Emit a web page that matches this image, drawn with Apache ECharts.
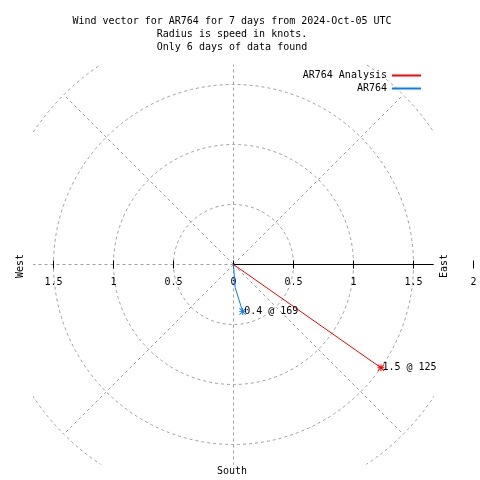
<!DOCTYPE html>
<html><head><meta charset="utf-8">
<script src="https://cdn.jsdelivr.net/npm/echarts@6/dist/echarts.min.js"></script>
<style>html,body{margin:0;padding:0;background:#fff}#c{width:480px;height:480px}</style>
</head><body><div id="c"></div>
<script>
// ---- data ----
const titleLines = ['Wind vector for AR764 for 7 days from 2024-Oct-05 UTC', 'Radius is speed in knots.', 'Only 6 days of data found'];
const seriesNames = ['AR764 Analysis', 'AR764'];
const analysisSpeed = [0, 1.5];     // knots
const analysisDir = [0, 125];       // degrees (clockwise from north)
const obsSpeed = [0, 0.19, 0.4];
const obsDir = [0, 176, 169];
const tickValues = [-1.5, -1, -0.5, 0, 0.5, 1, 1.5, 2];
const ringRadii = [0.5, 1, 1.5, 2];
const spokeAngles = [0, 45, 90, 135, 180, 225, 270, 315];
const compassLabels = ['West', 'East', 'South'];
const axisMax = 5 / 3;

// ---- helpers ----
const FONT = 'DejaVu Sans Mono';
const GRAY = '#a0a0a0';
const STAR = 'path://M4.3,0 h1.4 v10 h-1.4 z M0,4.3 h10 v1.4 h-10 z M1,0 L10,9 L9,10 L0,1 z M9,0 L10,1 L1,10 L0,9 z';
function toXY(s, d) {
  const a = d * Math.PI / 180;
  return [s * Math.sin(a), s * Math.cos(a)];
}
function vectorData(speeds, dirs) {
  const last = speeds.length - 1;
  return speeds.map((s, i) => ({
    value: toXY(s, dirs[i]),
    symbol: i === last ? STAR : 'none',
    label: { show: i === last, formatter: s + ' @ ' + dirs[i] }
  }));
}
const vecLabel = {
  position: [5, 3.5], align: 'left', verticalAlign: 'middle',
  fontFamily: FONT, fontSize: 10, color: '#000'
};

const chart = echarts.init(document.getElementById('c'), null, { renderer: 'canvas' });
chart.setOption({
  animation: false,
  backgroundColor: '#fff',
  title: {
    text: titleLines.join('\n'),
    left: 232, top: 15, padding: 0, textAlign: 'center',
    textStyle: { fontFamily: FONT, fontSize: 10, fontWeight: 'normal', color: '#000', lineHeight: 13 }
  },
  legend: {
    data: seriesNames.map(n => ({ name: n, icon: 'rect' })),
    orient: 'vertical', align: 'right', right: 59, top: 69, padding: 0,
    itemWidth: 29, itemHeight: 2, itemGap: 0, selectedMode: false,
    textStyle: { fontFamily: FONT, fontSize: 10, color: '#000', lineHeight: 13 }
  },
  grid: { left: 33.5, top: 64.5, width: 400, height: 400 },
  xAxis: { type: 'value', min: -axisMax, max: axisMax, show: false },
  yAxis: { type: 'value', min: -axisMax, max: axisMax, show: false },
  graphic: [
    { type: 'text', x: 20, y: 266, rotation: Math.PI / 2,
      style: { text: compassLabels[0], fontFamily: FONT, fontSize: 10, fill: '#000', align: 'center', verticalAlign: 'middle' } },
    { type: 'text', x: 444, y: 266, rotation: Math.PI / 2,
      style: { text: compassLabels[1], fontFamily: FONT, fontSize: 10, fill: '#000', align: 'center', verticalAlign: 'middle' } },
    { type: 'text', x: 232, y: 471,
      style: { text: compassLabels[2], fontFamily: FONT, fontSize: 10, fill: '#000', align: 'center', verticalAlign: 'middle' } }
  ],
  series: [
    { // rings
      type: 'custom', clip: true, silent: true, z: 1,
      data: ringRadii.map(r => [r, 0]),
      renderItem: (p, api) => {
        const c = api.coord([0, 0]);
        const r = api.size([api.value(0), 0])[0];
        return { type: 'circle', shape: { cx: c[0], cy: c[1], r: r },
          style: { fill: 'none', stroke: GRAY, lineWidth: 1, lineDash: [3, 3] } };
      }
    },
    { // spokes
      type: 'custom', clip: true, silent: true, z: 1,
      data: spokeAngles.map(a => [a, 2]),
      renderItem: (p, api) => {
        const c = api.coord([0, 0]);
        const e = api.coord(toXY(api.value(1), api.value(0)));
        return { type: 'line', shape: { x1: c[0], y1: c[1], x2: e[0], y2: e[1] },
          style: { stroke: GRAY, lineWidth: 1, lineDash: [3, 3] } };
      }
    },
    { // axis line (east half)
      type: 'custom', clip: false, silent: true, z: 2,
      data: [[0, 0, axisMax, 0]],
      renderItem: (p, api) => {
        const a = api.coord([api.value(0), api.value(1)]);
        const b = api.coord([api.value(2), api.value(3)]);
        return { type: 'line', shape: { x1: a[0], y1: a[1], x2: b[0], y2: b[1] },
          style: { stroke: '#000', lineWidth: 1 } };
      }
    },
    { // ticks + labels
      type: 'custom', clip: false, silent: true, z: 3,
      data: tickValues.map(v => [v, 0]),
      renderItem: (p, api) => {
        const v = api.value(0);
        const c = api.coord([v, 0]);
        return { type: 'group', children: [
          { type: 'line', shape: { x1: c[0], y1: c[1] - 4, x2: c[0], y2: c[1] + 4 }, style: { stroke: '#000', lineWidth: 1 } },
          { type: 'text', x: c[0], y: c[1] + 18,
            style: { text: String(Math.abs(v)), fontFamily: FONT, fontSize: 10, fill: '#000', align: 'center', verticalAlign: 'middle' } }
        ] };
      }
    },
    {
      name: seriesNames[0], type: 'line', z: 5,
      data: vectorData(analysisSpeed, analysisDir),
      symbolSize: 7, color: '#ff0000',
      lineStyle: { color: '#ff0000', width: 1 },
      itemStyle: { color: '#ff0000' },
      label: vecLabel
    },
    {
      name: seriesNames[1], type: 'line', z: 5,
      data: vectorData(obsSpeed, obsDir),
      symbolSize: 7, color: '#0080ff',
      lineStyle: { color: '#0080ff', width: 1 },
      itemStyle: { color: '#0080ff' },
      label: vecLabel
    }
  ]
});
</script></body></html>
